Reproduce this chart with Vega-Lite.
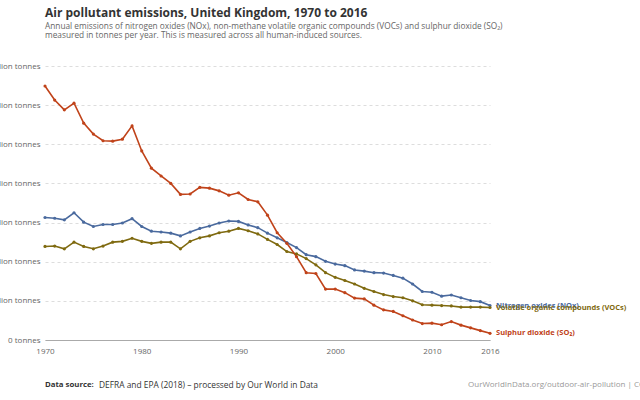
{
  "$schema": "https://vega.github.io/schema/vega-lite/v6.json",
  "width": 585,
  "height": 274,
  "autosize": {"type": "none"},
  "padding": {"left": 45, "top": 66, "right": 10, "bottom": 60},
  "background": "white",
  "config": {"font": "Open Sans", "view": {"stroke": null}},
  "title": {
    "text": "Air pollutant emissions, United Kingdom, 1970 to 2016",
    "subtitle": ["Annual emissions of nitrogen oxides (NOx), non-methane volatile organic compounds (VOCs) and sulphur dioxide (SO₂)", "measured in tonnes per year. This is measured across all human-induced sources."],
    "anchor": "start",
    "frame": "group",
    "fontSize": 12,
    "fontWeight": "bold",
    "color": "#333333",
    "subtitleFontSize": 8.3,
    "subtitleColor": "#666666",
    "subtitlePadding": 2,
    "subtitleLineHeight": 9,
    "offset": 22
  },
  "data": {"values": [
    {"year": 1970, "Nitrogen oxides (NOx)": 3130000, "Volatile organic compounds (VOCs)": 2390000, "Sulphur dioxide (SO₂)": 6490000},
    {"year": 1971, "Nitrogen oxides (NOx)": 3110000, "Volatile organic compounds (VOCs)": 2400000, "Sulphur dioxide (SO₂)": 6130000},
    {"year": 1972, "Nitrogen oxides (NOx)": 3070000, "Volatile organic compounds (VOCs)": 2330000, "Sulphur dioxide (SO₂)": 5880000},
    {"year": 1973, "Nitrogen oxides (NOx)": 3250000, "Volatile organic compounds (VOCs)": 2500000, "Sulphur dioxide (SO₂)": 6050000},
    {"year": 1974, "Nitrogen oxides (NOx)": 3010000, "Volatile organic compounds (VOCs)": 2390000, "Sulphur dioxide (SO₂)": 5540000},
    {"year": 1975, "Nitrogen oxides (NOx)": 2900000, "Volatile organic compounds (VOCs)": 2330000, "Sulphur dioxide (SO₂)": 5260000},
    {"year": 1976, "Nitrogen oxides (NOx)": 2950000, "Volatile organic compounds (VOCs)": 2400000, "Sulphur dioxide (SO₂)": 5090000},
    {"year": 1977, "Nitrogen oxides (NOx)": 2950000, "Volatile organic compounds (VOCs)": 2500000, "Sulphur dioxide (SO₂)": 5080000},
    {"year": 1978, "Nitrogen oxides (NOx)": 2990000, "Volatile organic compounds (VOCs)": 2520000, "Sulphur dioxide (SO₂)": 5130000},
    {"year": 1979, "Nitrogen oxides (NOx)": 3100000, "Volatile organic compounds (VOCs)": 2600000, "Sulphur dioxide (SO₂)": 5470000},
    {"year": 1980, "Nitrogen oxides (NOx)": 2900000, "Volatile organic compounds (VOCs)": 2520000, "Sulphur dioxide (SO₂)": 4830000},
    {"year": 1981, "Nitrogen oxides (NOx)": 2780000, "Volatile organic compounds (VOCs)": 2470000, "Sulphur dioxide (SO₂)": 4390000},
    {"year": 1982, "Nitrogen oxides (NOx)": 2760000, "Volatile organic compounds (VOCs)": 2500000, "Sulphur dioxide (SO₂)": 4190000},
    {"year": 1983, "Nitrogen oxides (NOx)": 2730000, "Volatile organic compounds (VOCs)": 2500000, "Sulphur dioxide (SO₂)": 4000000},
    {"year": 1984, "Nitrogen oxides (NOx)": 2660000, "Volatile organic compounds (VOCs)": 2330000, "Sulphur dioxide (SO₂)": 3720000},
    {"year": 1985, "Nitrogen oxides (NOx)": 2760000, "Volatile organic compounds (VOCs)": 2520000, "Sulphur dioxide (SO₂)": 3730000},
    {"year": 1986, "Nitrogen oxides (NOx)": 2850000, "Volatile organic compounds (VOCs)": 2610000, "Sulphur dioxide (SO₂)": 3900000},
    {"year": 1987, "Nitrogen oxides (NOx)": 2910000, "Volatile organic compounds (VOCs)": 2660000, "Sulphur dioxide (SO₂)": 3880000},
    {"year": 1988, "Nitrogen oxides (NOx)": 2990000, "Volatile organic compounds (VOCs)": 2740000, "Sulphur dioxide (SO₂)": 3810000},
    {"year": 1989, "Nitrogen oxides (NOx)": 3040000, "Volatile organic compounds (VOCs)": 2780000, "Sulphur dioxide (SO₂)": 3700000},
    {"year": 1990, "Nitrogen oxides (NOx)": 3030000, "Volatile organic compounds (VOCs)": 2850000, "Sulphur dioxide (SO₂)": 3760000},
    {"year": 1991, "Nitrogen oxides (NOx)": 2940000, "Volatile organic compounds (VOCs)": 2790000, "Sulphur dioxide (SO₂)": 3590000},
    {"year": 1992, "Nitrogen oxides (NOx)": 2870000, "Volatile organic compounds (VOCs)": 2710000, "Sulphur dioxide (SO₂)": 3530000},
    {"year": 1993, "Nitrogen oxides (NOx)": 2730000, "Volatile organic compounds (VOCs)": 2570000, "Sulphur dioxide (SO₂)": 3190000},
    {"year": 1994, "Nitrogen oxides (NOx)": 2610000, "Volatile organic compounds (VOCs)": 2440000, "Sulphur dioxide (SO₂)": 2740000},
    {"year": 1995, "Nitrogen oxides (NOx)": 2490000, "Volatile organic compounds (VOCs)": 2260000, "Sulphur dioxide (SO₂)": 2470000},
    {"year": 1996, "Nitrogen oxides (NOx)": 2360000, "Volatile organic compounds (VOCs)": 2200000, "Sulphur dioxide (SO₂)": 2130000},
    {"year": 1997, "Nitrogen oxides (NOx)": 2180000, "Volatile organic compounds (VOCs)": 2080000, "Sulphur dioxide (SO₂)": 1720000},
    {"year": 1998, "Nitrogen oxides (NOx)": 2130000, "Volatile organic compounds (VOCs)": 1920000, "Sulphur dioxide (SO₂)": 1700000},
    {"year": 1999, "Nitrogen oxides (NOx)": 2010000, "Volatile organic compounds (VOCs)": 1720000, "Sulphur dioxide (SO₂)": 1300000},
    {"year": 2000, "Nitrogen oxides (NOx)": 1940000, "Volatile organic compounds (VOCs)": 1600000, "Sulphur dioxide (SO₂)": 1300000},
    {"year": 2001, "Nitrogen oxides (NOx)": 1900000, "Volatile organic compounds (VOCs)": 1520000, "Sulphur dioxide (SO₂)": 1210000},
    {"year": 2002, "Nitrogen oxides (NOx)": 1790000, "Volatile organic compounds (VOCs)": 1430000, "Sulphur dioxide (SO₂)": 1070000},
    {"year": 2003, "Nitrogen oxides (NOx)": 1760000, "Volatile organic compounds (VOCs)": 1320000, "Sulphur dioxide (SO₂)": 1050000},
    {"year": 2004, "Nitrogen oxides (NOx)": 1720000, "Volatile organic compounds (VOCs)": 1240000, "Sulphur dioxide (SO₂)": 890000},
    {"year": 2005, "Nitrogen oxides (NOx)": 1710000, "Volatile organic compounds (VOCs)": 1160000, "Sulphur dioxide (SO₂)": 770000},
    {"year": 2006, "Nitrogen oxides (NOx)": 1650000, "Volatile organic compounds (VOCs)": 1110000, "Sulphur dioxide (SO₂)": 730000},
    {"year": 2007, "Nitrogen oxides (NOx)": 1580000, "Volatile organic compounds (VOCs)": 1080000, "Sulphur dioxide (SO₂)": 620000},
    {"year": 2008, "Nitrogen oxides (NOx)": 1430000, "Volatile organic compounds (VOCs)": 1000000, "Sulphur dioxide (SO₂)": 510000},
    {"year": 2009, "Nitrogen oxides (NOx)": 1240000, "Volatile organic compounds (VOCs)": 900000, "Sulphur dioxide (SO₂)": 420000},
    {"year": 2010, "Nitrogen oxides (NOx)": 1220000, "Volatile organic compounds (VOCs)": 890000, "Sulphur dioxide (SO₂)": 430000},
    {"year": 2011, "Nitrogen oxides (NOx)": 1120000, "Volatile organic compounds (VOCs)": 880000, "Sulphur dioxide (SO₂)": 390000},
    {"year": 2012, "Nitrogen oxides (NOx)": 1150000, "Volatile organic compounds (VOCs)": 870000, "Sulphur dioxide (SO₂)": 470000},
    {"year": 2013, "Nitrogen oxides (NOx)": 1080000, "Volatile organic compounds (VOCs)": 840000, "Sulphur dioxide (SO₂)": 380000},
    {"year": 2014, "Nitrogen oxides (NOx)": 1010000, "Volatile organic compounds (VOCs)": 840000, "Sulphur dioxide (SO₂)": 310000},
    {"year": 2015, "Nitrogen oxides (NOx)": 980000, "Volatile organic compounds (VOCs)": 840000, "Sulphur dioxide (SO₂)": 240000},
    {"year": 2016, "Nitrogen oxides (NOx)": 880000, "Volatile organic compounds (VOCs)": 830000, "Sulphur dioxide (SO₂)": 170000}
  ]},
  "layer": [
    {
      "transform": [{"fold": ["Nitrogen oxides (NOx)", "Volatile organic compounds (VOCs)", "Sulphur dioxide (SO₂)"], "as": ["series", "value"]}],
      "encoding": {
        "x": {"field": "year", "type": "quantitative",
          "scale": {"domain": [1970, 2016], "range": [0, 445], "nice": false, "zero": false},
          "axis": {"values": [1970, 1980, 1990, 2000, 2010, 2016], "tickCount": 10, "labelFlush": false, "format": "d", "title": null, "grid": false, "ticks": false, "domainColor": "#aaaaaa", "labelColor": "#666666", "labelFontSize": 8, "labelPadding": 7}},
        "y": {"field": "value", "type": "quantitative",
          "scale": {"domain": [0, 7000000], "nice": false},
          "axis": {"values": [0, 1000000, 2000000, 3000000, 4000000, 5000000, 6000000, 7000000], "tickCount": 10, "labelFlush": false, "labelOverlap": false,
            "labelExpr": "datum.value == 0 ? '0 tonnes' : format(datum.value / 1000000, 'd') + ' million tonnes'",
            "title": null, "domain": false, "ticks": false, "gridDash": [3, 3], "gridColor": "#dddddd", "labelColor": "#666666", "labelFontSize": 8, "labelPadding": 5}},
        "color": {"field": "series", "type": "nominal",
          "scale": {"domain": ["Nitrogen oxides (NOx)", "Volatile organic compounds (VOCs)", "Sulphur dioxide (SO₂)"], "range": ["#4a6a9e", "#7f6a10", "#c0431a"]},
          "legend": null}
      },
      "layer": [
        {"mark": {"type": "line", "strokeWidth": 1.6}},
        {"mark": {"type": "point", "filled": true, "size": 10, "opacity": 1}},
        {"transform": [{"filter": "datum.year == 2016"}],
         "mark": {"type": "text", "align": "left", "baseline": "middle", "dx": 6, "fontSize": 7.5, "fontWeight": "bold"},
         "encoding": {"text": {"field": "series"}}}
      ]
    },
    {
      "data": {"values": [{"label": "Data source:"}]},
      "mark": {"type": "text", "align": "left", "baseline": "middle", "dy": 45, "fontSize": 7.8, "fontWeight": "bold", "color": "#333333"},
      "encoding": {"x": {"datum": 1970}, "y": {"datum": 0}, "text": {"field": "label"}}
    },
    {
      "data": {"values": [{"label": "DEFRA and EPA (2018) – processed by Our World in Data"}]},
      "mark": {"type": "text", "align": "left", "baseline": "middle", "dx": 54, "dy": 45, "fontSize": 8.4, "color": "#333333"},
      "encoding": {"x": {"datum": 1970}, "y": {"datum": 0}, "text": {"field": "label"}}
    },
    {
      "data": {"values": [{"label": "OurWorldInData.org/outdoor-air-pollution | CC BY"}]},
      "mark": {"type": "text", "align": "left", "baseline": "middle", "dx": -22, "dy": 45, "fontSize": 8, "color": "#999999"},
      "encoding": {"x": {"datum": 2016}, "y": {"datum": 0}, "text": {"field": "label"}}
    }
  ]
}
